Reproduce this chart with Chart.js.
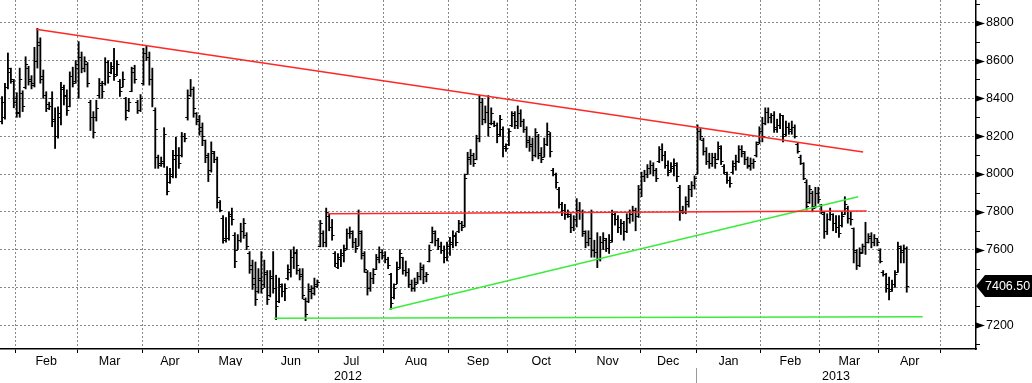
<!DOCTYPE html>
<html>
<head>
<meta charset="utf-8">
<script src="https://cdn.jsdelivr.net/npm/chart.js@4.4.0/dist/chart.umd.min.js"></script>
<style>
  html, body { margin: 0; padding: 0; background: #fff; }
  #wrap { width: 1032px; height: 383px; position: relative; }
</style>
</head>
<body>
<div id="wrap"><canvas id="chart"></canvas></div>
<script>
"use strict";

// Daily OHLC, one bar per trading day, bar 0 = late Jan 2012
const opens = [
  8280,8300,8460,8540,8490,8400,8320,8430,8460,8560,
  8500,8480,8600,8680,8520,8420,8370,8400,8290,8200,
  8300,8450,8410,8360,8520,8490,8560,8620,8560,8580,
  8380,8300,8300,8420,8470,8480,8590,8540,8560,8530,
  8490,8460,8400,8340,8440,8560,8380,8340,8480,8640,
  8620,8500,8340,8090,8060,8060,8000,7960,7990,8080,
  8100,8100,8200,8300,8420,8450,8320,8290,8250,8180,
  8100,8020,8110,8080,7850,7770,7650,7660,7790,7680,
  7600,7650,7700,7680,7580,7520,7450,7380,7450,7420,
  7470,7360,7450,7400,7330,7410,7380,7450,7480,7560,
  7590,7490,7470,7340,7330,7380,7370,7410,7620,7690,
  7640,7780,7720,7580,7510,7550,7570,7610,7690,7690,
  7640,7620,7690,7580,7480,7400,7450,7500,7560,7590,
  7570,7550,7470,7350,7420,7510,7560,7490,7480,7420,
  7400,7430,7460,7500,7460,7540,7640,7690,7650,7620,
  7600,7560,7620,7630,7670,7700,7740,7730,8000,8080,
  8100,8080,8190,8380,8290,8330,8270,8270,8260,8210,
  8240,8150,8160,8260,8320,8260,8320,8280,8240,8170,
  8160,8100,8200,8110,8090,8160,8210,8020,8000,7920,
  7840,7810,7800,7780,7720,7760,7810,7800,7690,7640,
  7660,7600,7590,7550,7640,7650,7610,7650,7790,7760,
  7720,7740,7700,7770,7790,7810,7780,7920,7990,8000,
  8030,8050,8020,8070,8130,8100,8050,8020,8030,8050,
  7930,7810,7800,7840,7920,7940,8000,8230,8180,8120,
  8070,8060,8090,8080,8140,8040,8000,7970,8010,8040,
  8070,8130,8110,8080,8040,8060,8100,8170,8230,8270,
  8330,8300,8310,8240,8260,8310,8210,8250,8240,8250,
  8160,8090,8060,7960,7850,7900,7830,7900,7830,7790,
  7700,7760,7790,7740,7720,7730,7790,7820,7770,7715,
  7590,7520,7590,7620,7640,7670,7640,7660,7600,7480,
  7470,7420,7390,7420,7480,7610,7600,7610
];
const highs = [
  8410,8480,8640,8560,8500,8430,8560,8440,8620,8570,
  8520,8670,8770,8720,8550,8435,8380,8435,8350,8355,
  8485,8470,8445,8540,8565,8600,8700,8645,8620,8590,
  8390,8330,8390,8505,8490,8615,8600,8590,8665,8600,
  8500,8540,8405,8400,8565,8575,8390,8420,8665,8680,
  8645,8560,8350,8100,8090,8245,8040,8030,8125,8195,
  8140,8220,8215,8445,8500,8460,8325,8310,8270,8180,
  8110,8170,8120,8090,7860,7780,7770,7800,7820,7690,
  7680,7740,7765,7690,7590,7545,7535,7500,7590,7545,
  7490,7490,7590,7465,7450,7420,7420,7520,7600,7615,
  7600,7500,7500,7345,7420,7410,7450,7440,7755,7700,
  7820,7790,7760,7590,7580,7600,7625,7710,7720,7700,
  7660,7810,7700,7590,7490,7480,7500,7575,7615,7600,
  7590,7560,7475,7420,7535,7600,7560,7540,7500,7440,
  7450,7480,7530,7520,7480,7625,7720,7700,7660,7640,
  7620,7640,7665,7700,7690,7755,7750,8000,8115,8130,
  8110,8205,8415,8400,8360,8415,8350,8280,8270,8310,
  8250,8160,8240,8330,8330,8360,8340,8290,8250,8200,
  8190,8240,8210,8140,8190,8270,8220,8030,8005,7930,
  7850,7840,7810,7790,7780,7870,7850,7810,7700,7700,
  7810,7650,7690,7670,7690,7660,7680,7810,7800,7780,
  7760,7750,7790,7810,7830,7820,7940,8010,8020,8050,
  8070,8060,8030,8145,8160,8120,8070,8060,8080,8060,
  7940,7830,7880,7940,7960,7990,8260,8240,8190,8140,
  8110,8110,8110,8170,8150,8050,8010,7985,8070,8100,
  8150,8150,8120,8090,8085,8080,8170,8250,8300,8350,
  8350,8320,8330,8290,8320,8310,8280,8270,8280,8260,
  8165,8100,8060,7970,7940,7910,7930,7930,7840,7800,
  7790,7820,7790,7780,7780,7800,7880,7830,7800,7715,
  7600,7610,7630,7745,7685,7690,7680,7660,7605,7490,
  7475,7455,7440,7490,7640,7620,7625,7615
];
const lows = [
  8265,8290,8450,8480,8350,8300,8300,8330,8450,8470,
  8450,8460,8560,8480,8400,8330,8340,8250,8135,8190,
  8260,8365,8310,8355,8460,8480,8400,8535,8540,8460,
  8230,8190,8280,8400,8400,8470,8480,8530,8495,8520,
  8410,8460,8285,8330,8435,8480,8320,8330,8470,8600,
  8470,8355,8030,8030,8040,8035,7890,7950,7980,7980,
  8030,8090,8170,8285,8410,8300,8260,8205,8150,8060,
  7960,8010,8060,7820,7800,7635,7640,7650,7730,7505,
  7600,7640,7660,7600,7475,7390,7305,7370,7370,7400,
  7310,7350,7370,7230,7320,7350,7330,7440,7455,7500,
  7470,7440,7340,7225,7320,7340,7360,7400,7615,7615,
  7615,7700,7650,7510,7500,7510,7535,7600,7660,7610,
  7585,7620,7550,7480,7360,7380,7420,7495,7530,7550,
  7530,7500,7285,7340,7420,7500,7470,7460,7400,7380,
  7380,7420,7440,7420,7430,7535,7635,7620,7600,7580,
  7530,7540,7570,7610,7620,7690,7700,7720,8000,8050,
  8040,8075,8170,8260,8270,8200,8260,8250,8165,8200,
  8090,8120,8150,8250,8240,8240,8250,8220,8140,8120,
  8070,8090,8080,8060,8090,8150,8090,7990,7925,7820,
  7780,7760,7770,7690,7700,7720,7760,7670,7610,7620,
  7560,7560,7505,7540,7600,7590,7580,7640,7730,7690,
  7680,7650,7690,7740,7750,7700,7770,7880,7960,7980,
  8000,7990,7960,8060,8070,8030,7990,8010,7990,7960,
  7755,7790,7790,7825,7880,7920,8000,8180,8100,8050,
  8030,8040,8030,8075,8050,8000,7950,7930,8000,8020,
  8060,8090,8050,8030,8020,8030,8090,8160,8170,8260,
  8270,8270,8220,8220,8240,8170,8200,8210,8210,8190,
  8110,8050,7970,7810,7845,7800,7820,7845,7790,7660,
  7680,7755,7700,7690,7665,7720,7785,7740,7730,7530,
  7495,7510,7580,7575,7635,7610,7620,7620,7530,7460,
  7375,7335,7380,7400,7480,7530,7530,7375
];
const closes = [
  8380,8460,8560,8500,8380,8330,8500,8360,8580,8490,
  8470,8600,8700,8500,8420,8350,8360,8280,8200,8320,
  8460,8420,8340,8520,8480,8580,8620,8560,8600,8480,
  8300,8220,8350,8480,8440,8590,8520,8570,8520,8580,
  8440,8500,8300,8380,8540,8500,8340,8400,8640,8620,
  8500,8400,8240,8050,8070,8210,7910,8000,8100,8100,
  8060,8200,8190,8400,8450,8350,8280,8230,8200,8090,
  8000,8120,8080,7880,7810,7660,7660,7780,7760,7540,
  7650,7700,7740,7620,7500,7420,7340,7440,7400,7480,
  7340,7460,7400,7300,7420,7380,7400,7500,7560,7580,
  7520,7460,7360,7260,7390,7400,7420,7430,7740,7640,
  7800,7720,7680,7530,7560,7580,7600,7690,7700,7640,
  7610,7700,7570,7500,7400,7450,7470,7550,7590,7570,
  7550,7520,7320,7400,7500,7580,7490,7480,7420,7400,
  7420,7460,7510,7460,7470,7600,7700,7650,7620,7600,
  7560,7620,7640,7680,7640,7740,7720,7980,8090,8100,
  8060,8190,8380,8290,8330,8250,8320,8260,8200,8290,
  8140,8140,8230,8310,8280,8320,8280,8240,8180,8150,
  8100,8220,8100,8080,8160,8230,8120,8000,7960,7840,
  7810,7790,7790,7720,7760,7800,7800,7700,7640,7660,
  7600,7590,7550,7640,7660,7610,7640,7790,7760,7720,
  7740,7700,7770,7790,7810,7780,7920,7990,8000,8030,
  8050,8020,7980,8130,8100,8050,8010,8040,8060,7990,
  7800,7800,7860,7920,7940,7980,8230,8200,8120,8070,
  8060,8090,8060,8150,8070,8010,7970,7950,8060,8070,
  8130,8120,8080,8050,8060,8070,8160,8230,8200,8330,
  8300,8310,8250,8260,8310,8200,8250,8230,8250,8200,
  8120,8060,7980,7830,7920,7820,7900,7870,7800,7700,
  7760,7790,7740,7720,7690,7780,7840,7770,7760,7600,
  7520,7580,7620,7640,7660,7640,7660,7640,7540,7470,
  7400,7380,7420,7470,7620,7590,7610,7406.5
];

// Month boundaries (in bar index units) and labels between them
const monthBounds = [4.5, 25.5, 47.5, 66.5, 88.5, 107.5, 129.5, 151.5, 171.5, 194.5, 216.5, 235.5, 257.5, 277.5, 297.5, 318.5];
const monthLabels = ['Feb', 'Mar', 'Apr', 'May', 'Jun', 'Jul', 'Aug', 'Sep', 'Oct', 'Nov', 'Dec', 'Jan', 'Feb', 'Mar', 'Apr'];
const yearLabels = ['2012', '2013'];
const yearBound = 235.5;

// Trend lines: [x0, y0, x1, y1]
const redFalling = [11.5, 8765, 292.2, 8116];
const redFlat = [110.4, 7790, 293.4, 7805];
const greenRising = [131.3, 7285, 290.5, 7880];
const greenFlat = [92.3, 7237, 312.4, 7245];

const X_MIN = -0.69;
const X_MAX = 330.5;
const Y_MIN = 7075;
const Y_MAX = 8920;

Chart.defaults.font.family = "'Liberation Sans', Arial, sans-serif";
Chart.defaults.font.size = 12.5;
Chart.defaults.color = '#000';

// month tick positions: boundaries + midpoints
let _monthTicks = [];
let _monthText = {};
monthBounds.forEach(function(_b, _i) {
    _monthTicks.push(_b);
    if (_i < monthBounds.length - 1) {
        let _mid = (_b + monthBounds[_i + 1]) / 2;
        _monthTicks.push(_mid);
        _monthText[_mid] = monthLabels[_i];
    }
});
let _yearTicks = [(X_MIN + yearBound) / 2, (yearBound + X_MAX) / 2];

function isBound(_v) { return monthBounds.indexOf(_v) !== -1; }

function noPadding(_s) {
    _s.paddingTop = 0; _s.paddingBottom = 0;
    _s.paddingLeft = 0; _s.paddingRight = 0;
}

function trend(_t, _color) {
    return {
        type: 'line',
        data: [{x: _t[0], y: _t[1]}, {x: _t[2], y: _t[3]}],
        borderColor: _color,
        borderWidth: 1.5,
        pointRadius: 0,
        order: 0
    };
}

// open / close ticks on each bar
const ohlcTicks = {
    id: 'ohlcTicks',
    afterDatasetDraw(chart, args) {
        if (args.index !== 0) return;
        const _ctx = chart.ctx;
        const _x = chart.scales.x, _y = chart.scales.y;
        _ctx.save();
        _ctx.strokeStyle = '#000';
        _ctx.lineWidth = 1;
        _ctx.beginPath();
        for (let _i = 0; _i < closes.length; _i++) {
            const _px = _x.getPixelForValue(_i);
            const _po = Math.round(_y.getPixelForValue(opens[_i])) + 0.5;
            const _pc = Math.round(_y.getPixelForValue(closes[_i])) + 0.5;
            _ctx.moveTo(_px - 2.5, _po); _ctx.lineTo(_px, _po);
            _ctx.moveTo(_px, _pc); _ctx.lineTo(_px + 2.5, _pc);
        }
        _ctx.stroke();
        _ctx.restore();
    }
};

// right axis markers, year separator, last price box
const decorations = {
    id: 'decorations',
    afterDraw(chart) {
        const _ctx = chart.ctx;
        const _x = chart.scales.x, _y = chart.scales.y;
        const _right = chart.chartArea.right;
        _ctx.save();
        _ctx.fillStyle = '#000';
        _ctx.strokeStyle = '#000';
        _ctx.lineWidth = 1;
        for (let _v = 7100; _v <= 8900; _v += 100) {
            const _py = Math.round(_y.getPixelForValue(_v)) + 0.5;
            if (_v % 200 === 0) {
                if (_v === 7400) continue;
                _ctx.beginPath();
                _ctx.moveTo(_right, _py - 3);
                _ctx.lineTo(_right + 9, _py);
                _ctx.lineTo(_right, _py + 3);
                _ctx.closePath();
                _ctx.fill();
            } else {
                _ctx.beginPath();
                _ctx.moveTo(_right, _py);
                _ctx.lineTo(_right + 4, _py);
                _ctx.stroke();
            }
        }

        // year separator
        const _sx = Math.round(_x.getPixelForValue(yearBound)) + 0.5;
        _ctx.strokeStyle = '#9a9a9a';
        _ctx.beginPath();
        _ctx.moveTo(_sx, chart.scales.x2.top + 2);
        _ctx.lineTo(_sx, chart.height);
        _ctx.stroke();

        // last price
        const _last = closes[closes.length - 1];
        const _ly = Math.round(_y.getPixelForValue(_last));
        _ctx.fillStyle = '#000';
        _ctx.beginPath();
        _ctx.moveTo(_right, _ly);
        _ctx.lineTo(_right + 9, _ly - 11);
        _ctx.lineTo(chart.width, _ly - 11);
        _ctx.lineTo(chart.width, _ly + 11);
        _ctx.lineTo(_right + 9, _ly + 11);
        _ctx.closePath();
        _ctx.fill();
        _ctx.fillStyle = '#fff';
        _ctx.font = "12.5px 'Liberation Sans', Arial, sans-serif";
        _ctx.textAlign = 'left';
        _ctx.textBaseline = 'middle';
        _ctx.fillText(_last.toFixed(2), _right + 9, _ly + 1);
        _ctx.restore();
    }
};

const _gridGray = '#888888';

new Chart(document.getElementById('chart'), {
    type: 'bar',
    data: {
        datasets: [
            {
                type: 'bar',
                data: highs.map(function(_h, _i) { return {x: _i, y: [lows[_i], _h]}; }),
                backgroundColor: '#000',
                borderWidth: 0,
                barThickness: 1.2,
                order: 10
            },
            trend(redFalling, 'rgb(255,40,40)'),
            trend(redFlat, 'rgb(255,40,40)'),
            trend(greenRising, 'rgb(60,235,60)'),
            trend(greenFlat, 'rgb(60,235,60)')
        ]
    },
    options: {
        responsive: true,
        maintainAspectRatio: false,
        devicePixelRatio: 1,
        animation: false,
        layout: { padding: 0 },
        plugins: { legend: { display: false }, tooltip: { enabled: false } },
        scales: {
            x: {
                type: 'linear',
                position: 'bottom',
                weight: 0,
                min: X_MIN,
                max: X_MAX,
                offset: false,
                afterBuildTicks: function(_s) { _s.ticks = _monthTicks.map(function(_v) { return {value: _v}; }); },
                afterFit: function(_s) { _s.height = 17; noPadding(_s); },
                ticks: {
                    autoSkip: false,
                    maxRotation: 0,
                    padding: 1,
                    callback: function(_v) { return _monthText[_v] || ''; }
                },
                grid: {
                    offset: false,
                    tickLength: 4,
                    color: function(_c) { return (_c.tick && isBound(_c.tick.value)) ? _gridGray : 'rgba(0,0,0,0)'; },
                    tickColor: function(_c) { return (_c.tick && isBound(_c.tick.value)) ? '#000' : 'rgba(0,0,0,0)'; },
                    tickWidth: 1
                },
                border: { display: true, color: '#000', width: 1.5, dash: [2, 2] }
            },
            x2: {
                type: 'linear',
                position: 'bottom',
                weight: 1,
                min: X_MIN,
                max: X_MAX,
                offset: false,
                afterBuildTicks: function(_s) { _s.ticks = _yearTicks.map(function(_v) { return {value: _v}; }); },
                afterFit: function(_s) { _s.height = 17; noPadding(_s); },
                ticks: {
                    autoSkip: false,
                    maxRotation: 0,
                    padding: 3,
                    callback: function(_v, _i) { return yearLabels[_i]; }
                },
                grid: { display: false, drawTicks: false },
                border: { display: false }
            },
            y: {
                type: 'linear',
                position: 'right',
                min: Y_MIN,
                max: Y_MAX,
                afterBuildTicks: function(_s) {
                    let _t = [];
                    for (let _v = 7100; _v <= 8900; _v += 100) _t.push({value: _v});
                    _s.ticks = _t;
                },
                afterFit: function(_s) { _s.width = 56; noPadding(_s); },
                ticks: {
                    padding: 10,
                    autoSkip: false,
                    callback: function(_v) { return (_v % 200 === 0 && _v !== 7400) ? String(_v) : ''; }
                },
                grid: {
                    drawTicks: false,
                    color: function(_c) { return (_c.tick && _c.tick.value % 200 === 0) ? _gridGray : 'rgba(0,0,0,0)'; }
                },
                border: { display: true, color: '#000', width: 1.5, dash: [2, 2] }
            }
        }
    },
    plugins: [ohlcTicks, decorations]
});
</script>
</body>
</html>
